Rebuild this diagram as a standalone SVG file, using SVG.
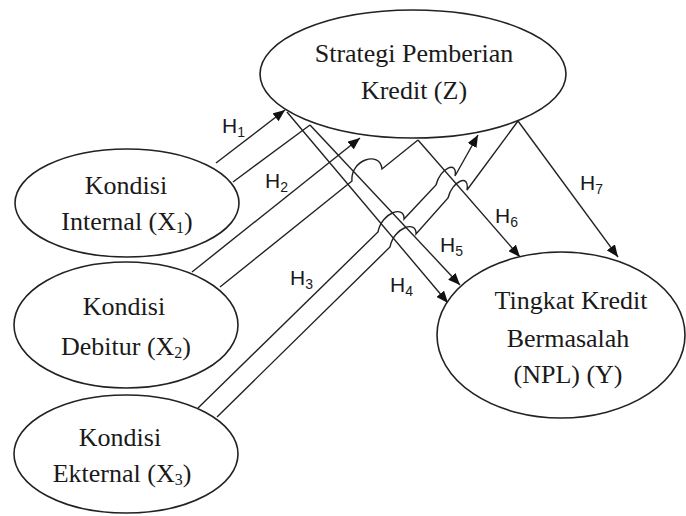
<svg xmlns="http://www.w3.org/2000/svg" width="686" height="516" viewBox="0 0 686 516">
<style>
.node ellipse{fill:#fff;stroke:#222;stroke-width:1.6}
.lbl{font-family:"Liberation Serif","DejaVu Serif",serif;font-size:26px;fill:#1a1a1a;text-anchor:middle}
.sub{font-size:16px}
.h{font-family:"Liberation Sans","DejaVu Sans",sans-serif;font-size:21px;fill:#1a1a1a}
.hs{font-size:14px}
#connectors path,#connectors line{fill:none;stroke:#222;stroke-width:1.4}
</style>
<defs>
<marker id="ah" viewBox="0 0 12 10" refX="12" refY="5" markerWidth="12" markerHeight="10" markerUnits="userSpaceOnUse" orient="auto">
<path d="M0,0 L12,5 L0,10 z" fill="#111"/>
</marker>
</defs>
<rect width="686" height="516" fill="#fff"/>
<g id="connectors">
<line x1="216" y1="163" x2="285" y2="110" marker-end="url(#ah)"/>
<line x1="233" y1="182" x2="310" y2="125"/>
<line x1="287" y1="112" x2="448" y2="303" marker-end="url(#ah)"/>
<line x1="310" y1="125" x2="460" y2="285" marker-end="url(#ah)"/>
<line x1="192" y1="272" x2="360" y2="138" marker-end="url(#ah)"/>
<path d="M220,287 L352,181 C350,160 380,150 382,169 L418,140"/>
<line x1="418" y1="140" x2="520" y2="257" marker-end="url(#ah)"/>
<path d="M198,408 L378,232 C382,212 405,205 404,219 L436,185 C440,168 458,160 455,176 L478,135" marker-end="url(#ah)"/>
<path d="M217,417 L390,247 C394,227 417,220 416,234 L448,198 C452,181 470,173 467,190 L518,121"/>
<line x1="518" y1="121" x2="618" y2="257" marker-end="url(#ah)"/>
</g>
<g id="Z" class="node"><ellipse cx="413" cy="74" rx="153" ry="64"/>
<text class="lbl" x="414" y="62">Strategi Pemberian</text>
<text class="lbl" x="414" y="99">Kredit (Z)</text></g>
<g id="X1" class="node"><ellipse cx="127" cy="203" rx="112" ry="54"/>
<text class="lbl" x="126" y="194">Kondisi</text>
<text class="lbl" x="127" y="230">Internal (X<tspan class="sub" dy="3">1</tspan><tspan dy="-3">)</tspan></text></g>
<g id="X2" class="node"><ellipse cx="126" cy="325" rx="112" ry="63"/>
<text class="lbl" x="124" y="315">Kondisi</text>
<text class="lbl" x="126" y="355">Debitur (X<tspan class="sub" dy="3">2</tspan><tspan dy="-3">)</tspan></text></g>
<g id="X3" class="node"><ellipse cx="126" cy="454" rx="112" ry="59"/>
<text class="lbl" x="120" y="446">Kondisi</text>
<text class="lbl" x="122" y="482">Ekternal (X<tspan class="sub" dy="3">3</tspan><tspan dy="-3">)</tspan></text></g>
<g id="Y" class="node"><ellipse cx="561" cy="335" rx="124" ry="83"/>
<text class="lbl" x="571" y="309">Tingkat Kredit</text>
<text class="lbl" x="568" y="347">Bermasalah</text>
<text class="lbl" x="568" y="383">(NPL) (Y)</text></g>
<g id="hlabels">
<text class="h" x="222" y="133">H<tspan class="hs" dy="4">1</tspan></text>
<text class="h" x="265" y="188">H<tspan class="hs" dy="4">2</tspan></text>
<text class="h" x="290" y="285">H<tspan class="hs" dy="4">3</tspan></text>
<text class="h" x="390" y="292">H<tspan class="hs" dy="4">4</tspan></text>
<text class="h" x="440" y="252">H<tspan class="hs" dy="4">5</tspan></text>
<text class="h" x="495" y="223">H<tspan class="hs" dy="4">6</tspan></text>
<text class="h" x="580" y="190">H<tspan class="hs" dy="4">7</tspan></text>
</g>
</svg>
